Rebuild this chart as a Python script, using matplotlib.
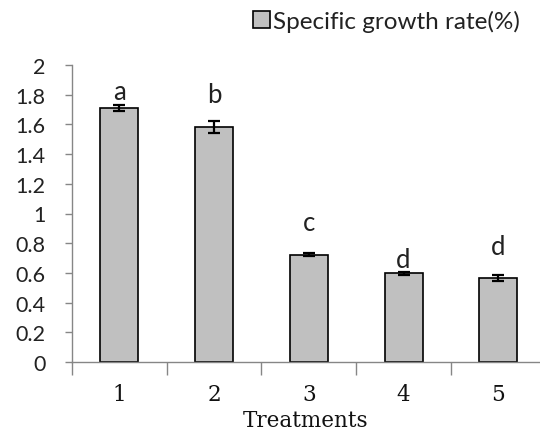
import matplotlib.pyplot as plt
import numpy as np

treatments = ["1", "2", "3", "4", "5"]
growth = [1.71, 1.585, 0.723, 0.597, 0.564]
errors = [0.022, 0.04, 0.01, 0.012, 0.02]
letters = ["a", "b", "c", "d", "d"]
letter_y = [1.82, 1.80, 0.94, 0.69, 0.78]
yticks = [0, 0.2, 0.4, 0.6, 0.8, 1, 1.2, 1.4, 1.6, 1.8, 2]
ytick_labels = ["0", "0.2", "0.4", "0.6", "0.8", "1", "1.2", "1.4", "1.6", "1.8", "2"]

axis_col = "#868686"
sans = ["Lato", "DejaVu Sans"]
serif = ["DejaVu Serif"]

fig = plt.figure(figsize=(5.4, 4.39), dpi=100)
ax = fig.add_axes([72 / 540, 1 - 363 / 439, 1 - 72 / 540, (363 - 66) / 439])

x = np.arange(len(treatments))
ax.bar(x, growth, width=0.40, color="#c0c0c0", edgecolor="black",
       linewidth=1.2, label="Specific growth rate(%)", zorder=2)
ax.errorbar(x, growth, yerr=errors, fmt="none", ecolor="black",
            elinewidth=1.6, capsize=4, capthick=1.6, zorder=3)

# significance letters
for xi, lab, ly in zip(x, letters, letter_y):
    ax.text(xi, ly, lab, ha="center", va="center", fontsize=18.5,
            family=sans, color="#222222")

ax.set_xlim(-0.5, 4.44)
ax.set_ylim(0, 2)

# category boundary ticks, labels in the middle
ax.set_xticks(np.arange(-0.5, 4.0, 1.0))
ax.set_xticklabels([])
ax.tick_params(axis="x", which="major", length=9, width=1, color=axis_col,
               direction="out")
ax.set_xticks(x, minor=True)
ax.set_xticklabels(treatments, minor=True, family=serif, fontsize=15.5,
                   color="#111111")
ax.tick_params(axis="x", which="minor", length=0, pad=15)

ax.set_yticks(yticks)
ax.set_yticklabels(ytick_labels, family=sans, fontsize=15.5, color="#222222")
ax.tick_params(axis="y", length=5, width=1, color=axis_col, pad=14)

for side in ["top", "right"]:
    ax.spines[side].set_visible(False)
for side in ["left", "bottom"]:
    ax.spines[side].set_color(axis_col)
    ax.spines[side].set_linewidth(1)

ax.set_xlabel("Treatments", family=serif, fontsize=15.5, color="#111111",
              labelpad=3)

leg = fig.legend(loc="center left", bbox_to_anchor=(253 / 540, 1 - 22 / 439),
                 frameon=False, prop={"family": sans, "size": 17.5},
                 handlelength=0.7, handleheight=0.7, handletextpad=0.14,
                 borderpad=0, borderaxespad=0)
for t in leg.get_texts():
    t.set_color("#222222")

fig.savefig("out.png", dpi=100)
